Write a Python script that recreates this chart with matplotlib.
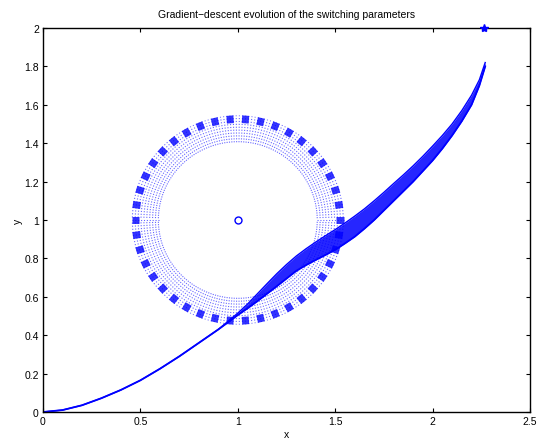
import numpy as np
import matplotlib
matplotlib.use("Agg")
import matplotlib.pyplot as plt

# ---- data ----
traj_x = [0, 0.1, 0.2, 0.3, 0.4, 0.5, 0.6, 0.7, 0.8, 0.9, 1.0, 1.05, 1.1, 1.15,
          1.2, 1.25, 1.3, 1.35, 1.4, 1.45, 1.5, 1.55, 1.6, 1.65, 1.7, 1.75, 1.8,
          1.85, 1.9, 1.95, 2.0, 2.05, 2.1, 2.15, 2.2, 2.24, 2.27]
traj_lower = [0, 0.01, 0.035, 0.072, 0.115, 0.165, 0.225, 0.29, 0.36, 0.43,
              0.505, 0.54, 0.577, 0.616, 0.655, 0.695, 0.735, 0.765, 0.792,
              0.818, 0.845, 0.878, 0.913, 0.955, 1.0, 1.05, 1.10, 1.15, 1.20,
              1.255, 1.31, 1.372, 1.44, 1.515, 1.60, 1.70, 1.80]
traj_upper = [0, 0.01, 0.035, 0.072, 0.115, 0.165, 0.225, 0.29, 0.36, 0.43,
              0.515, 0.562, 0.615, 0.668, 0.72, 0.768, 0.812, 0.85, 0.885,
              0.918, 0.95, 0.984, 1.02, 1.058, 1.10, 1.144, 1.19, 1.235, 1.282,
              1.332, 1.385, 1.44, 1.50, 1.57, 1.65, 1.73, 1.82]

ring_center = (1.0, 1.0)
ring_inner_r = 0.405
ring_outer_r = 0.545
blob_inner_r = 0.505
n_groups = 42
rays_per_group = 5

start_point = (1.0, 1.0)
target_point = (2.263, 2.0)

x_ticks = [0, 0.5, 1, 1.5, 2, 2.5]
y_ticks = [0, 0.2, 0.4, 0.6, 0.8, 1, 1.2, 1.4, 1.6, 1.8, 2]

plt.rcParams['font.family'] = ['Liberation Sans', 'DejaVu Sans']

fig = plt.figure(figsize=(5.38, 4.39), dpi=100)
ax = fig.add_axes([43 / 538, 26 / 439, (530 - 43) / 538, (413 - 29) / 439])

blue = (0, 0, 1)

# ring of dotted rays with thick outer dashes
group_angles = np.arange(n_groups) * 360.0 / n_groups
step = 360.0 / n_groups / rays_per_group
cx, cy = ring_center
for ga in group_angles:
    for k in range(rays_per_group):
        a = np.deg2rad(ga + (k - (rays_per_group - 1) / 2) * step)
        ax.plot([cx + ring_inner_r * np.cos(a), cx + ring_outer_r * np.cos(a)],
                [cy + ring_inner_r * np.sin(a), cy + ring_outer_r * np.sin(a)],
                linestyle=(0, (1, 1.6)), lw=0.8, color=blue, alpha=0.6)
    a = np.deg2rad(ga)
    ax.plot([cx + blob_inner_r * np.cos(a), cx + ring_outer_r * np.cos(a)],
            [cy + blob_inner_r * np.sin(a), cy + ring_outer_r * np.sin(a)],
            lw=5, color=blue, alpha=0.8, solid_capstyle='butt')

# trajectory band
ax.fill_between(traj_x, traj_lower, traj_upper, color=blue, alpha=0.85, lw=0)
ax.plot(traj_x, traj_lower, color=blue, lw=1.3)
ax.plot(traj_x, traj_upper, color=blue, lw=1.0)

ax.plot([start_point[0]], [start_point[1]], 'o', mfc='none', mec=blue,
        ms=5, mew=1)
ax.plot([target_point[0]], [target_point[1]], '*', color=blue, ms=6,
        clip_on=False, zorder=5)

ax.set_xlim(0, 2.5)
ax.set_ylim(0, 2)
ax.set_xticks(x_ticks)
ax.set_xticklabels(['%g' % v for v in x_ticks])
ax.set_yticks(y_ticks)
ax.set_yticklabels(['%g' % v for v in y_ticks])
ax.tick_params(direction='in', length=3, width=0.8, labelsize=7.5,
               top=True, right=True, pad=3)
for s in ax.spines.values():
    s.set_linewidth(1.0)

ax.set_xlabel('x', fontsize=7.5, labelpad=2)
ax.set_ylabel('y', fontsize=7.5, labelpad=1)
ax.set_title('Gradient\u2212descent evolution of the switching parameters',
             fontsize=7.5, pad=8)

fig.savefig('out.png', dpi=100)
